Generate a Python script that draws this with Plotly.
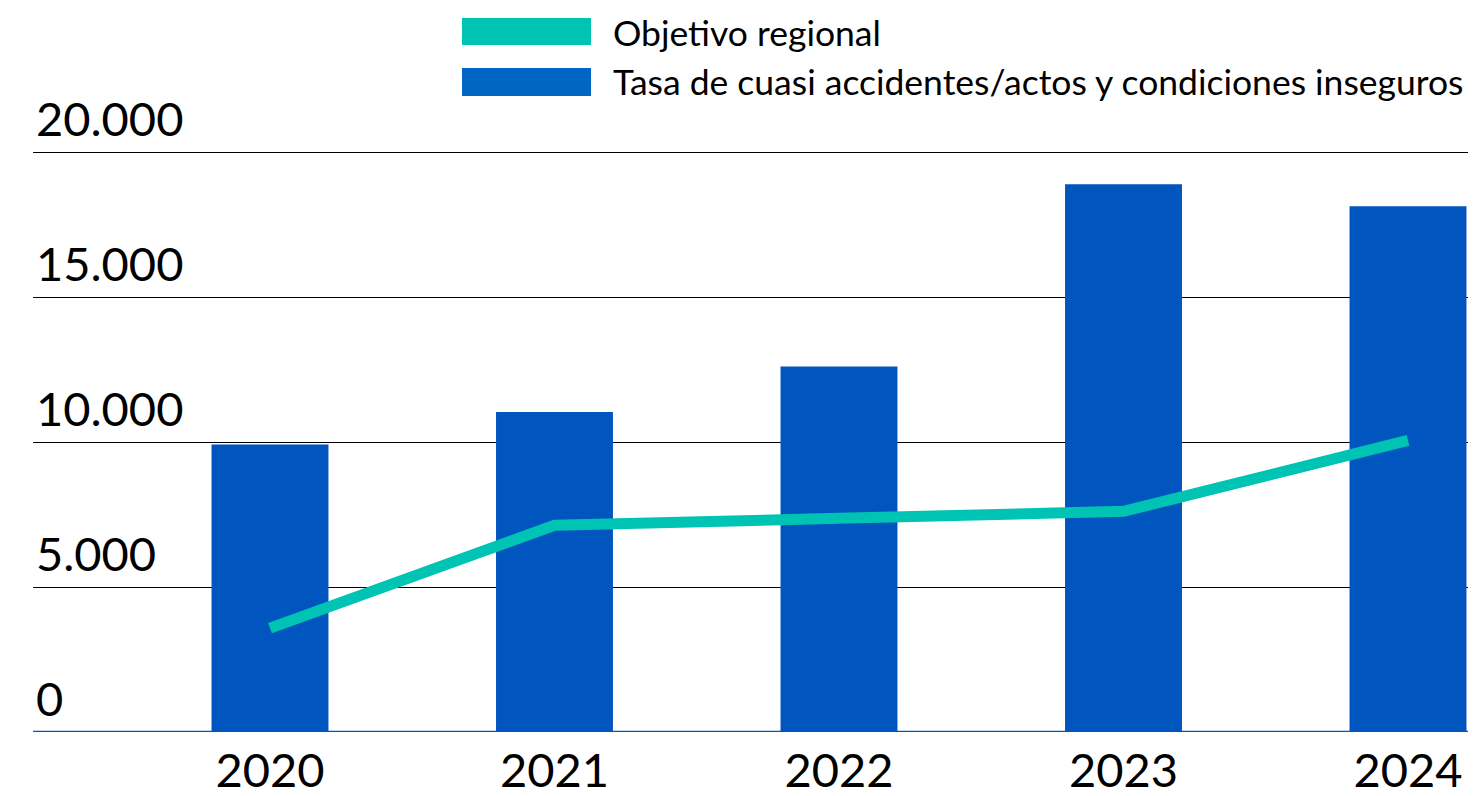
import plotly.graph_objects as go

years = ["2020", "2021", "2022", "2023", "2024"]
tasa_values = [9930, 11050, 12620, 18920, 18160]
objetivo_values = [3590, 7140, 7380, 7620, 10070]
y_ticks = [0, 5000, 10000, 15000, 20000]
y_tick_labels = ["0", "5.000", "10.000", "15.000", "20.000"]

legend_names = ["Objetivo regional", "Tasa de cuasi accidentes/actos y condiciones inseguros"]

BAR_COLOR = "#0055BE"
LEGEND_BAR_COLOR = "#0066C4"
LINE_COLOR = "#00C4B3"
FONT = "Lato"

# the page places the figure 8px from the top-left corner of the window
OFF = 8
W, H = 1476 - OFF, 796 - OFF
Y_TOP = 20100
ML, MR, MB = 33 - OFF, 0, 64
MT = round(153 - OFF - (Y_TOP - 20000) * 579 / 20000, 1)

fig = go.Figure()
fig.add_trace(go.Bar(
    x=years, y=tasa_values, name=legend_names[1],
    marker=dict(color=BAR_COLOR, line=dict(width=0)),
    width=0.411, showlegend=False,
))
fig.add_trace(go.Scatter(
    x=years, y=objetivo_values, name=legend_names[0],
    mode="lines", line=dict(color=LINE_COLOR, width=11),
    showlegend=False,
))

fig.update_layout(
    width=W, height=H,
    margin=dict(l=ML, r=MR, t=MT, b=MB, autoexpand=False),
    paper_bgcolor="white", plot_bgcolor="white",
    font=dict(family=FONT, color="black"),
    xaxis=dict(
        type="category", range=[-0.833, 4.239], automargin=False,
        showgrid=False, zeroline=False, showline=False,
        ticks="", tickfont=dict(size=47, family=FONT, color="black"),
        ticklabelstandoff=7,
    ),
    yaxis=dict(
        range=[0, Y_TOP], tickvals=y_ticks, ticktext=y_tick_labels,
        automargin=False,
        showgrid=True, gridcolor="black", gridwidth=1,
        zeroline=False, showline=False, ticks="",
        ticklabelposition="inside top", ticklabelstandoff=0,
        ticklabeloverflow="allow",
        tickfont=dict(size=47, family=FONT, color="black"),
    ),
)

# blue baseline at zero
fig.add_shape(type="line", xref="paper", yref="y", x0=0, x1=1, y0=0, y1=0,
              line=dict(color=BAR_COLOR, width=2.5), layer="above")

# custom legend (window pixel positions converted to plot-area paper fractions)
PW, PH = W - ML - MR, H - MT - MB

def fx(pix):
    return (pix - OFF - ML) / PW

def fy(pix):
    return (H - MB - (pix - OFF)) / PH

fig.add_shape(type="rect", xref="paper", yref="paper",
              x0=fx(462), x1=fx(591), y0=fy(45), y1=fy(18),
              fillcolor=LINE_COLOR, line=dict(width=0))
fig.add_shape(type="rect", xref="paper", yref="paper",
              x0=fx(462), x1=fx(591), y0=fy(96), y1=fy(68),
              fillcolor=LEGEND_BAR_COLOR, line=dict(width=0))
for name, cy in zip(legend_names, [33, 82]):
    fig.add_annotation(xref="paper", yref="paper",
                       x=fx(611), y=fy(cy),
                       text=name, showarrow=False, xanchor="left", yanchor="middle",
                       font=dict(size=35.5, family=FONT, color="black"))

fig.write_html("out.html")
